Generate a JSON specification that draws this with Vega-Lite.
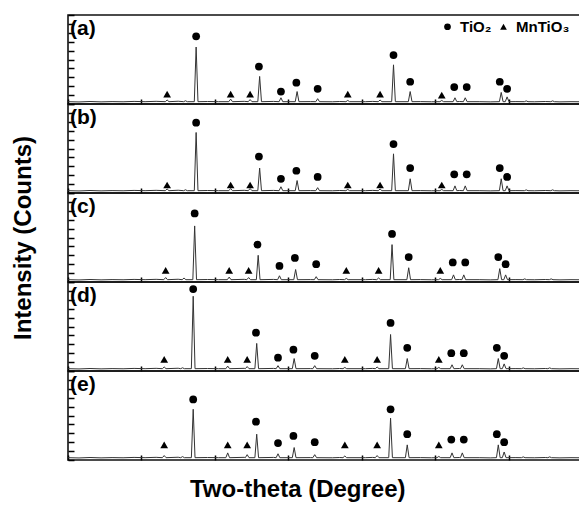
{
  "$schema": "https://vega.github.io/schema/vega-lite/v6.json",
  "padding": {"left": 11, "top": 13, "right": 0, "bottom": 5},
  "bounds": "flush",
  "title": {"text": "Two-theta (Degree)", "orient": "bottom", "anchor": "middle", "fontSize": 24, "fontWeight": "bold", "font": "Liberation Sans", "offset": 16, "color": "black"},
  "data": {"values": [
    {"p":"a","k":"l","lab":"(a)"},{"p":"b","k":"l","lab":"(b)"},{"p":"c","k":"l","lab":"(c)"},{"p":"d","k":"l","lab":"(d)"},{"p":"e","k":"l","lab":"(e)"},

    {"p":"a","k":"t","x":10,"y":2.6},{"p":"a","k":"t","x":11.5,"y":2.3},{"p":"a","k":"t","x":13,"y":2.8},{"p":"a","k":"t","x":14.5,"y":2.4},{"p":"a","k":"t","x":16,"y":2.7},{"p":"a","k":"t","x":17.5,"y":2.5},{"p":"a","k":"t","x":19,"y":2.9},{"p":"a","k":"t","x":20.5,"y":2.6},{"p":"a","k":"t","x":22,"y":3.0},{"p":"a","k":"t","x":25,"y":3.1},{"p":"a","k":"t","x":29,"y":2.8},{"p":"a","k":"t","x":30.5,"y":2.6},{"p":"a","k":"t","x":34,"y":3.0},{"p":"a","k":"t","x":38,"y":2.9},{"p":"a","k":"t","x":43,"y":2.7},{"p":"a","k":"t","x":46,"y":2.5},{"p":"a","k":"t","x":47,"y":2.8},{"p":"a","k":"t","x":50.5,"y":2.6},{"p":"a","k":"t","x":51.5,"y":2.9},{"p":"a","k":"t","x":58,"y":2.7},{"p":"a","k":"t","x":59.5,"y":2.5},{"p":"a","k":"t","x":63.3,"y":2.8},{"p":"a","k":"t","x":66,"y":2.6},{"p":"a","k":"t","x":67.5,"y":2.4},{"p":"a","k":"t","x":71,"y":2.7},{"p":"a","k":"t","x":73.5,"y":2.5},{"p":"a","k":"t","x":75,"y":2.8},{"p":"a","k":"t","x":77,"y":2.4},{"p":"a","k":"t","x":78.5,"y":2.6},{"p":"a","k":"t","x":80,"y":2.5},
    {"p":"a","k":"t","x":23.25,"y":2.6},{"p":"a","k":"t","x":23.5,"y":4.5},{"p":"a","k":"t","x":23.75,"y":2.6},
    {"p":"a","k":"t","x":25.75,"y":2.6},{"p":"a","k":"t","x":26.0,"y":3.6},{"p":"a","k":"t","x":26.25,"y":2.6},
    {"p":"a","k":"t","x":27.2,"y":2.6},{"p":"a","k":"t","x":27.45,"y":64},{"p":"a","k":"t","x":27.7,"y":2.6},
    {"p":"a","k":"t","x":31.9,"y":2.6},{"p":"a","k":"t","x":32.15,"y":5.5},{"p":"a","k":"t","x":32.4,"y":2.6},
    {"p":"a","k":"t","x":34.55,"y":2.6},{"p":"a","k":"t","x":34.8,"y":5},{"p":"a","k":"t","x":35.05,"y":2.6},
    {"p":"a","k":"t","x":35.85,"y":2.6},{"p":"a","k":"t","x":36.1,"y":31},{"p":"a","k":"t","x":36.35,"y":2.6},
    {"p":"a","k":"t","x":38.75,"y":2.6},{"p":"a","k":"t","x":39.0,"y":7},{"p":"a","k":"t","x":39.25,"y":2.6},
    {"p":"a","k":"t","x":40.95,"y":2.6},{"p":"a","k":"t","x":41.2,"y":14},{"p":"a","k":"t","x":41.45,"y":2.6},
    {"p":"a","k":"t","x":43.75,"y":2.6},{"p":"a","k":"t","x":44.0,"y":6},{"p":"a","k":"t","x":44.25,"y":2.6},
    {"p":"a","k":"t","x":47.85,"y":2.6},{"p":"a","k":"t","x":48.1,"y":4},{"p":"a","k":"t","x":48.35,"y":2.6},
    {"p":"a","k":"t","x":52.25,"y":2.6},{"p":"a","k":"t","x":52.5,"y":4.5},{"p":"a","k":"t","x":52.75,"y":2.6},
    {"p":"a","k":"t","x":54.08,"y":2.6},{"p":"a","k":"t","x":54.33,"y":44},{"p":"a","k":"t","x":54.58,"y":2.6},
    {"p":"a","k":"t","x":56.35,"y":2.6},{"p":"a","k":"t","x":56.6,"y":14},{"p":"a","k":"t","x":56.85,"y":2.6},
    {"p":"a","k":"t","x":60.65,"y":2.6},{"p":"a","k":"t","x":60.9,"y":4},{"p":"a","k":"t","x":61.15,"y":2.6},
    {"p":"a","k":"t","x":62.45,"y":2.6},{"p":"a","k":"t","x":62.7,"y":7},{"p":"a","k":"t","x":62.95,"y":2.6},
    {"p":"a","k":"t","x":63.85,"y":2.6},{"p":"a","k":"t","x":64.1,"y":7},{"p":"a","k":"t","x":64.35,"y":2.6},
    {"p":"a","k":"t","x":68.75,"y":2.6},{"p":"a","k":"t","x":69.0,"y":13},{"p":"a","k":"t","x":69.25,"y":2.6},
    {"p":"a","k":"t","x":69.55,"y":2.6},{"p":"a","k":"t","x":69.8,"y":8},{"p":"a","k":"t","x":70.05,"y":2.6},
    {"p":"a","k":"t","x":72.15,"y":2.6},{"p":"a","k":"t","x":72.4,"y":3.5},{"p":"a","k":"t","x":72.65,"y":2.6},
    {"p":"a","k":"t","x":75.75,"y":2.6},{"p":"a","k":"t","x":76.0,"y":3.5},{"p":"a","k":"t","x":76.25,"y":2.6},

    {"p":"b","k":"t","x":10,"y":2.6},{"p":"b","k":"t","x":11.5,"y":2.3},{"p":"b","k":"t","x":13,"y":2.8},{"p":"b","k":"t","x":14.5,"y":2.4},{"p":"b","k":"t","x":16,"y":2.7},{"p":"b","k":"t","x":17.5,"y":2.5},{"p":"b","k":"t","x":19,"y":2.9},{"p":"b","k":"t","x":20.5,"y":2.6},{"p":"b","k":"t","x":22,"y":3.0},{"p":"b","k":"t","x":25,"y":3.1},{"p":"b","k":"t","x":29,"y":2.8},{"p":"b","k":"t","x":30.5,"y":2.6},{"p":"b","k":"t","x":34,"y":3.0},{"p":"b","k":"t","x":38,"y":2.9},{"p":"b","k":"t","x":43,"y":2.7},{"p":"b","k":"t","x":46,"y":2.5},{"p":"b","k":"t","x":47,"y":2.8},{"p":"b","k":"t","x":50.5,"y":2.6},{"p":"b","k":"t","x":51.5,"y":2.9},{"p":"b","k":"t","x":58,"y":2.7},{"p":"b","k":"t","x":59.5,"y":2.5},{"p":"b","k":"t","x":63.3,"y":2.8},{"p":"b","k":"t","x":66,"y":2.6},{"p":"b","k":"t","x":67.5,"y":2.4},{"p":"b","k":"t","x":71,"y":2.7},{"p":"b","k":"t","x":73.5,"y":2.5},{"p":"b","k":"t","x":75,"y":2.8},{"p":"b","k":"t","x":77,"y":2.4},{"p":"b","k":"t","x":78.5,"y":2.6},{"p":"b","k":"t","x":80,"y":2.5},
    {"p":"b","k":"t","x":23.25,"y":2.6},{"p":"b","k":"t","x":23.5,"y":4.5},{"p":"b","k":"t","x":23.75,"y":2.6},
    {"p":"b","k":"t","x":25.75,"y":2.6},{"p":"b","k":"t","x":26.0,"y":3.6},{"p":"b","k":"t","x":26.25,"y":2.6},
    {"p":"b","k":"t","x":27.2,"y":2.6},{"p":"b","k":"t","x":27.45,"y":68},{"p":"b","k":"t","x":27.7,"y":2.6},
    {"p":"b","k":"t","x":31.9,"y":2.6},{"p":"b","k":"t","x":32.15,"y":5},{"p":"b","k":"t","x":32.4,"y":2.6},
    {"p":"b","k":"t","x":34.55,"y":2.6},{"p":"b","k":"t","x":34.8,"y":5},{"p":"b","k":"t","x":35.05,"y":2.6},
    {"p":"b","k":"t","x":35.85,"y":2.6},{"p":"b","k":"t","x":36.1,"y":28},{"p":"b","k":"t","x":36.35,"y":2.6},
    {"p":"b","k":"t","x":38.75,"y":2.6},{"p":"b","k":"t","x":39.0,"y":7},{"p":"b","k":"t","x":39.25,"y":2.6},
    {"p":"b","k":"t","x":40.95,"y":2.6},{"p":"b","k":"t","x":41.2,"y":14},{"p":"b","k":"t","x":41.45,"y":2.6},
    {"p":"b","k":"t","x":43.75,"y":2.6},{"p":"b","k":"t","x":44.0,"y":6},{"p":"b","k":"t","x":44.25,"y":2.6},
    {"p":"b","k":"t","x":47.85,"y":2.6},{"p":"b","k":"t","x":48.1,"y":4},{"p":"b","k":"t","x":48.35,"y":2.6},
    {"p":"b","k":"t","x":52.25,"y":2.6},{"p":"b","k":"t","x":52.5,"y":4.5},{"p":"b","k":"t","x":52.75,"y":2.6},
    {"p":"b","k":"t","x":54.08,"y":2.6},{"p":"b","k":"t","x":54.33,"y":44},{"p":"b","k":"t","x":54.58,"y":2.6},
    {"p":"b","k":"t","x":56.35,"y":2.6},{"p":"b","k":"t","x":56.6,"y":16},{"p":"b","k":"t","x":56.85,"y":2.6},
    {"p":"b","k":"t","x":60.65,"y":2.6},{"p":"b","k":"t","x":60.9,"y":4},{"p":"b","k":"t","x":61.15,"y":2.6},
    {"p":"b","k":"t","x":62.45,"y":2.6},{"p":"b","k":"t","x":62.7,"y":8},{"p":"b","k":"t","x":62.95,"y":2.6},
    {"p":"b","k":"t","x":63.85,"y":2.6},{"p":"b","k":"t","x":64.1,"y":8},{"p":"b","k":"t","x":64.35,"y":2.6},
    {"p":"b","k":"t","x":68.75,"y":2.6},{"p":"b","k":"t","x":69.0,"y":16},{"p":"b","k":"t","x":69.25,"y":2.6},
    {"p":"b","k":"t","x":69.55,"y":2.6},{"p":"b","k":"t","x":69.8,"y":8},{"p":"b","k":"t","x":70.05,"y":2.6},
    {"p":"b","k":"t","x":72.15,"y":2.6},{"p":"b","k":"t","x":72.4,"y":3.5},{"p":"b","k":"t","x":72.65,"y":2.6},
    {"p":"b","k":"t","x":75.75,"y":2.6},{"p":"b","k":"t","x":76.0,"y":3.5},{"p":"b","k":"t","x":76.25,"y":2.6},

    {"p":"c","k":"t","x":10,"y":2.6},{"p":"c","k":"t","x":11.5,"y":2.3},{"p":"c","k":"t","x":13,"y":2.8},{"p":"c","k":"t","x":14.5,"y":2.4},{"p":"c","k":"t","x":16,"y":2.7},{"p":"c","k":"t","x":17.5,"y":2.5},{"p":"c","k":"t","x":19,"y":2.9},{"p":"c","k":"t","x":20.5,"y":2.6},{"p":"c","k":"t","x":22,"y":3.0},{"p":"c","k":"t","x":25,"y":3.1},{"p":"c","k":"t","x":29,"y":2.8},{"p":"c","k":"t","x":30.5,"y":2.6},{"p":"c","k":"t","x":34,"y":3.0},{"p":"c","k":"t","x":38,"y":2.9},{"p":"c","k":"t","x":43,"y":2.7},{"p":"c","k":"t","x":46,"y":2.5},{"p":"c","k":"t","x":47,"y":2.8},{"p":"c","k":"t","x":50.5,"y":2.6},{"p":"c","k":"t","x":51.5,"y":2.9},{"p":"c","k":"t","x":58,"y":2.7},{"p":"c","k":"t","x":59.5,"y":2.5},{"p":"c","k":"t","x":63.3,"y":2.8},{"p":"c","k":"t","x":66,"y":2.6},{"p":"c","k":"t","x":67.5,"y":2.4},{"p":"c","k":"t","x":71,"y":2.7},{"p":"c","k":"t","x":73.5,"y":2.5},{"p":"c","k":"t","x":75,"y":2.8},{"p":"c","k":"t","x":77,"y":2.4},{"p":"c","k":"t","x":78.5,"y":2.6},{"p":"c","k":"t","x":80,"y":2.5},
    {"p":"c","k":"t","x":23.05,"y":2.6},{"p":"c","k":"t","x":23.3,"y":5},{"p":"c","k":"t","x":23.55,"y":2.6},
    {"p":"c","k":"t","x":25.55,"y":2.6},{"p":"c","k":"t","x":25.8,"y":4.5},{"p":"c","k":"t","x":26.05,"y":2.6},
    {"p":"c","k":"t","x":27.0,"y":2.6},{"p":"c","k":"t","x":27.25,"y":63},{"p":"c","k":"t","x":27.5,"y":2.6},
    {"p":"c","k":"t","x":31.7,"y":2.6},{"p":"c","k":"t","x":31.95,"y":5.5},{"p":"c","k":"t","x":32.2,"y":2.6},
    {"p":"c","k":"t","x":34.35,"y":2.6},{"p":"c","k":"t","x":34.6,"y":5},{"p":"c","k":"t","x":34.85,"y":2.6},
    {"p":"c","k":"t","x":35.65,"y":2.6},{"p":"c","k":"t","x":35.9,"y":30},{"p":"c","k":"t","x":36.15,"y":2.6},
    {"p":"c","k":"t","x":38.55,"y":2.6},{"p":"c","k":"t","x":38.8,"y":7},{"p":"c","k":"t","x":39.05,"y":2.6},
    {"p":"c","k":"t","x":40.75,"y":2.6},{"p":"c","k":"t","x":41.0,"y":14},{"p":"c","k":"t","x":41.25,"y":2.6},
    {"p":"c","k":"t","x":43.55,"y":2.6},{"p":"c","k":"t","x":43.8,"y":6},{"p":"c","k":"t","x":44.05,"y":2.6},
    {"p":"c","k":"t","x":47.65,"y":2.6},{"p":"c","k":"t","x":47.9,"y":4},{"p":"c","k":"t","x":48.15,"y":2.6},
    {"p":"c","k":"t","x":52.05,"y":2.6},{"p":"c","k":"t","x":52.3,"y":4.5},{"p":"c","k":"t","x":52.55,"y":2.6},
    {"p":"c","k":"t","x":53.88,"y":2.6},{"p":"c","k":"t","x":54.13,"y":42},{"p":"c","k":"t","x":54.38,"y":2.6},
    {"p":"c","k":"t","x":56.15,"y":2.6},{"p":"c","k":"t","x":56.4,"y":16},{"p":"c","k":"t","x":56.65,"y":2.6},
    {"p":"c","k":"t","x":60.45,"y":2.6},{"p":"c","k":"t","x":60.7,"y":4},{"p":"c","k":"t","x":60.95,"y":2.6},
    {"p":"c","k":"t","x":62.25,"y":2.6},{"p":"c","k":"t","x":62.5,"y":8},{"p":"c","k":"t","x":62.75,"y":2.6},
    {"p":"c","k":"t","x":63.65,"y":2.6},{"p":"c","k":"t","x":63.9,"y":8},{"p":"c","k":"t","x":64.15,"y":2.6},
    {"p":"c","k":"t","x":68.55,"y":2.6},{"p":"c","k":"t","x":68.8,"y":15},{"p":"c","k":"t","x":69.05,"y":2.6},
    {"p":"c","k":"t","x":69.35,"y":2.6},{"p":"c","k":"t","x":69.6,"y":8},{"p":"c","k":"t","x":69.85,"y":2.6},
    {"p":"c","k":"t","x":71.95,"y":2.6},{"p":"c","k":"t","x":72.2,"y":3.5},{"p":"c","k":"t","x":72.45,"y":2.6},
    {"p":"c","k":"t","x":75.55,"y":2.6},{"p":"c","k":"t","x":75.8,"y":3.5},{"p":"c","k":"t","x":76.05,"y":2.6},

    {"p":"d","k":"t","x":10,"y":2.6},{"p":"d","k":"t","x":11.5,"y":2.3},{"p":"d","k":"t","x":13,"y":2.8},{"p":"d","k":"t","x":14.5,"y":2.4},{"p":"d","k":"t","x":16,"y":2.7},{"p":"d","k":"t","x":17.5,"y":2.5},{"p":"d","k":"t","x":19,"y":2.9},{"p":"d","k":"t","x":20.5,"y":2.6},{"p":"d","k":"t","x":22,"y":3.0},{"p":"d","k":"t","x":25,"y":3.1},{"p":"d","k":"t","x":29,"y":2.8},{"p":"d","k":"t","x":30.5,"y":2.6},{"p":"d","k":"t","x":34,"y":3.0},{"p":"d","k":"t","x":38,"y":2.9},{"p":"d","k":"t","x":43,"y":2.7},{"p":"d","k":"t","x":46,"y":2.5},{"p":"d","k":"t","x":47,"y":2.8},{"p":"d","k":"t","x":50.5,"y":2.6},{"p":"d","k":"t","x":51.5,"y":2.9},{"p":"d","k":"t","x":58,"y":2.7},{"p":"d","k":"t","x":59.5,"y":2.5},{"p":"d","k":"t","x":63.3,"y":2.8},{"p":"d","k":"t","x":66,"y":2.6},{"p":"d","k":"t","x":67.5,"y":2.4},{"p":"d","k":"t","x":71,"y":2.7},{"p":"d","k":"t","x":73.5,"y":2.5},{"p":"d","k":"t","x":75,"y":2.8},{"p":"d","k":"t","x":77,"y":2.4},{"p":"d","k":"t","x":78.5,"y":2.6},{"p":"d","k":"t","x":80,"y":2.5},
    {"p":"d","k":"t","x":22.85,"y":2.6},{"p":"d","k":"t","x":23.1,"y":4.5},{"p":"d","k":"t","x":23.35,"y":2.6},
    {"p":"d","k":"t","x":25.35,"y":2.6},{"p":"d","k":"t","x":25.6,"y":3.6},{"p":"d","k":"t","x":25.85,"y":2.6},
    {"p":"d","k":"t","x":26.8,"y":2.6},{"p":"d","k":"t","x":27.05,"y":84},{"p":"d","k":"t","x":27.3,"y":2.6},
    {"p":"d","k":"t","x":31.5,"y":2.6},{"p":"d","k":"t","x":31.75,"y":5.5},{"p":"d","k":"t","x":32.0,"y":2.6},
    {"p":"d","k":"t","x":34.15,"y":2.6},{"p":"d","k":"t","x":34.4,"y":5},{"p":"d","k":"t","x":34.65,"y":2.6},
    {"p":"d","k":"t","x":35.45,"y":2.6},{"p":"d","k":"t","x":35.7,"y":31},{"p":"d","k":"t","x":35.95,"y":2.6},
    {"p":"d","k":"t","x":38.35,"y":2.6},{"p":"d","k":"t","x":38.6,"y":6},{"p":"d","k":"t","x":38.85,"y":2.6},
    {"p":"d","k":"t","x":40.55,"y":2.6},{"p":"d","k":"t","x":40.8,"y":14},{"p":"d","k":"t","x":41.05,"y":2.6},
    {"p":"d","k":"t","x":43.35,"y":2.6},{"p":"d","k":"t","x":43.6,"y":6},{"p":"d","k":"t","x":43.85,"y":2.6},
    {"p":"d","k":"t","x":47.45,"y":2.6},{"p":"d","k":"t","x":47.7,"y":4},{"p":"d","k":"t","x":47.95,"y":2.6},
    {"p":"d","k":"t","x":51.85,"y":2.6},{"p":"d","k":"t","x":52.1,"y":4.5},{"p":"d","k":"t","x":52.35,"y":2.6},
    {"p":"d","k":"t","x":53.68,"y":2.6},{"p":"d","k":"t","x":53.93,"y":41},{"p":"d","k":"t","x":54.18,"y":2.6},
    {"p":"d","k":"t","x":55.95,"y":2.6},{"p":"d","k":"t","x":56.2,"y":14},{"p":"d","k":"t","x":56.45,"y":2.6},
    {"p":"d","k":"t","x":60.25,"y":2.6},{"p":"d","k":"t","x":60.5,"y":4},{"p":"d","k":"t","x":60.75,"y":2.6},
    {"p":"d","k":"t","x":62.05,"y":2.6},{"p":"d","k":"t","x":62.3,"y":7},{"p":"d","k":"t","x":62.55,"y":2.6},
    {"p":"d","k":"t","x":63.45,"y":2.6},{"p":"d","k":"t","x":63.7,"y":7},{"p":"d","k":"t","x":63.95,"y":2.6},
    {"p":"d","k":"t","x":68.35,"y":2.6},{"p":"d","k":"t","x":68.6,"y":14},{"p":"d","k":"t","x":68.85,"y":2.6},
    {"p":"d","k":"t","x":69.15,"y":2.6},{"p":"d","k":"t","x":69.4,"y":8},{"p":"d","k":"t","x":69.65,"y":2.6},
    {"p":"d","k":"t","x":71.75,"y":2.6},{"p":"d","k":"t","x":72.0,"y":3.5},{"p":"d","k":"t","x":72.25,"y":2.6},
    {"p":"d","k":"t","x":75.35,"y":2.6},{"p":"d","k":"t","x":75.6,"y":3.5},{"p":"d","k":"t","x":75.85,"y":2.6},

    {"p":"e","k":"t","x":10,"y":2.6},{"p":"e","k":"t","x":11.5,"y":2.3},{"p":"e","k":"t","x":13,"y":2.8},{"p":"e","k":"t","x":14.5,"y":2.4},{"p":"e","k":"t","x":16,"y":2.7},{"p":"e","k":"t","x":17.5,"y":2.5},{"p":"e","k":"t","x":19,"y":2.9},{"p":"e","k":"t","x":20.5,"y":2.6},{"p":"e","k":"t","x":22,"y":3.0},{"p":"e","k":"t","x":25,"y":3.1},{"p":"e","k":"t","x":29,"y":2.8},{"p":"e","k":"t","x":30.5,"y":2.6},{"p":"e","k":"t","x":34,"y":3.0},{"p":"e","k":"t","x":38,"y":2.9},{"p":"e","k":"t","x":43,"y":2.7},{"p":"e","k":"t","x":46,"y":2.5},{"p":"e","k":"t","x":47,"y":2.8},{"p":"e","k":"t","x":50.5,"y":2.6},{"p":"e","k":"t","x":51.5,"y":2.9},{"p":"e","k":"t","x":58,"y":2.7},{"p":"e","k":"t","x":59.5,"y":2.5},{"p":"e","k":"t","x":63.3,"y":2.8},{"p":"e","k":"t","x":66,"y":2.6},{"p":"e","k":"t","x":67.5,"y":2.4},{"p":"e","k":"t","x":71,"y":2.7},{"p":"e","k":"t","x":73.5,"y":2.5},{"p":"e","k":"t","x":75,"y":2.8},{"p":"e","k":"t","x":77,"y":2.4},{"p":"e","k":"t","x":78.5,"y":2.6},{"p":"e","k":"t","x":80,"y":2.5},
    {"p":"e","k":"t","x":22.85,"y":2.6},{"p":"e","k":"t","x":23.1,"y":5},{"p":"e","k":"t","x":23.35,"y":2.6},
    {"p":"e","k":"t","x":25.35,"y":2.6},{"p":"e","k":"t","x":25.6,"y":3.8},{"p":"e","k":"t","x":25.85,"y":2.6},
    {"p":"e","k":"t","x":26.8,"y":2.6},{"p":"e","k":"t","x":27.05,"y":57},{"p":"e","k":"t","x":27.3,"y":2.6},
    {"p":"e","k":"t","x":31.5,"y":2.6},{"p":"e","k":"t","x":31.75,"y":8},{"p":"e","k":"t","x":32.0,"y":2.6},
    {"p":"e","k":"t","x":34.15,"y":2.6},{"p":"e","k":"t","x":34.4,"y":6},{"p":"e","k":"t","x":34.65,"y":2.6},
    {"p":"e","k":"t","x":35.45,"y":2.6},{"p":"e","k":"t","x":35.7,"y":29},{"p":"e","k":"t","x":35.95,"y":2.6},
    {"p":"e","k":"t","x":38.35,"y":2.6},{"p":"e","k":"t","x":38.6,"y":7},{"p":"e","k":"t","x":38.85,"y":2.6},
    {"p":"e","k":"t","x":40.55,"y":2.6},{"p":"e","k":"t","x":40.8,"y":14},{"p":"e","k":"t","x":41.05,"y":2.6},
    {"p":"e","k":"t","x":43.35,"y":2.6},{"p":"e","k":"t","x":43.6,"y":6},{"p":"e","k":"t","x":43.85,"y":2.6},
    {"p":"e","k":"t","x":47.45,"y":2.6},{"p":"e","k":"t","x":47.7,"y":4.5},{"p":"e","k":"t","x":47.95,"y":2.6},
    {"p":"e","k":"t","x":51.85,"y":2.6},{"p":"e","k":"t","x":52.1,"y":5},{"p":"e","k":"t","x":52.35,"y":2.6},
    {"p":"e","k":"t","x":53.68,"y":2.6},{"p":"e","k":"t","x":53.93,"y":47},{"p":"e","k":"t","x":54.18,"y":2.6},
    {"p":"e","k":"t","x":55.95,"y":2.6},{"p":"e","k":"t","x":56.2,"y":17},{"p":"e","k":"t","x":56.45,"y":2.6},
    {"p":"e","k":"t","x":60.25,"y":2.6},{"p":"e","k":"t","x":60.5,"y":4},{"p":"e","k":"t","x":60.75,"y":2.6},
    {"p":"e","k":"t","x":62.05,"y":2.6},{"p":"e","k":"t","x":62.3,"y":8},{"p":"e","k":"t","x":62.55,"y":2.6},
    {"p":"e","k":"t","x":63.45,"y":2.6},{"p":"e","k":"t","x":63.7,"y":8},{"p":"e","k":"t","x":63.95,"y":2.6},
    {"p":"e","k":"t","x":68.35,"y":2.6},{"p":"e","k":"t","x":68.6,"y":17},{"p":"e","k":"t","x":68.85,"y":2.6},
    {"p":"e","k":"t","x":69.15,"y":2.6},{"p":"e","k":"t","x":69.4,"y":9},{"p":"e","k":"t","x":69.65,"y":2.6},
    {"p":"e","k":"t","x":71.75,"y":2.6},{"p":"e","k":"t","x":72.0,"y":3.5},{"p":"e","k":"t","x":72.25,"y":2.6},
    {"p":"e","k":"t","x":75.35,"y":2.6},{"p":"e","k":"t","x":75.6,"y":3.5},{"p":"e","k":"t","x":75.85,"y":2.6},

    {"p":"a","k":"m","ph":"MnTiO₃","x":23.5,"y":11},{"p":"a","k":"m","ph":"MnTiO₃","x":32.15,"y":11},{"p":"a","k":"m","ph":"MnTiO₃","x":34.8,"y":11},{"p":"a","k":"m","ph":"MnTiO₃","x":48.1,"y":11},{"p":"a","k":"m","ph":"MnTiO₃","x":52.5,"y":11},{"p":"a","k":"m","ph":"MnTiO₃","x":60.9,"y":10},
    {"p":"a","k":"m","ph":"TiO₂","x":27.45,"y":76},{"p":"a","k":"m","ph":"TiO₂","x":36.0,"y":42},{"p":"a","k":"m","ph":"TiO₂","x":39.0,"y":14},{"p":"a","k":"m","ph":"TiO₂","x":41.1,"y":24},{"p":"a","k":"m","ph":"TiO₂","x":44.0,"y":17},{"p":"a","k":"m","ph":"TiO₂","x":54.33,"y":55},{"p":"a","k":"m","ph":"TiO₂","x":56.6,"y":25},{"p":"a","k":"m","ph":"TiO₂","x":62.6,"y":19},{"p":"a","k":"m","ph":"TiO₂","x":64.3,"y":19},{"p":"a","k":"m","ph":"TiO₂","x":68.8,"y":25},{"p":"a","k":"m","ph":"TiO₂","x":69.8,"y":17},

    {"p":"b","k":"m","ph":"MnTiO₃","x":23.5,"y":9},{"p":"b","k":"m","ph":"MnTiO₃","x":32.15,"y":9},{"p":"b","k":"m","ph":"MnTiO₃","x":34.8,"y":9},{"p":"b","k":"m","ph":"MnTiO₃","x":48.1,"y":9},{"p":"b","k":"m","ph":"MnTiO₃","x":52.5,"y":9},{"p":"b","k":"m","ph":"MnTiO₃","x":60.9,"y":9},
    {"p":"b","k":"m","ph":"TiO₂","x":27.45,"y":79},{"p":"b","k":"m","ph":"TiO₂","x":36.0,"y":41},{"p":"b","k":"m","ph":"TiO₂","x":39.0,"y":16},{"p":"b","k":"m","ph":"TiO₂","x":41.1,"y":25},{"p":"b","k":"m","ph":"TiO₂","x":44.0,"y":18},{"p":"b","k":"m","ph":"TiO₂","x":54.33,"y":55},{"p":"b","k":"m","ph":"TiO₂","x":56.6,"y":28},{"p":"b","k":"m","ph":"TiO₂","x":62.6,"y":21},{"p":"b","k":"m","ph":"TiO₂","x":64.3,"y":21},{"p":"b","k":"m","ph":"TiO₂","x":68.8,"y":28},{"p":"b","k":"m","ph":"TiO₂","x":69.8,"y":18},

    {"p":"c","k":"m","ph":"MnTiO₃","x":23.3,"y":13},{"p":"c","k":"m","ph":"MnTiO₃","x":31.95,"y":13},{"p":"c","k":"m","ph":"MnTiO₃","x":34.6,"y":13},{"p":"c","k":"m","ph":"MnTiO₃","x":47.9,"y":13},{"p":"c","k":"m","ph":"MnTiO₃","x":52.3,"y":13},{"p":"c","k":"m","ph":"MnTiO₃","x":60.7,"y":13},
    {"p":"c","k":"m","ph":"TiO₂","x":27.25,"y":77},{"p":"c","k":"m","ph":"TiO₂","x":35.8,"y":42},{"p":"c","k":"m","ph":"TiO₂","x":38.8,"y":18},{"p":"c","k":"m","ph":"TiO₂","x":40.9,"y":27},{"p":"c","k":"m","ph":"TiO₂","x":43.8,"y":20},{"p":"c","k":"m","ph":"TiO₂","x":54.13,"y":54},{"p":"c","k":"m","ph":"TiO₂","x":56.4,"y":28},{"p":"c","k":"m","ph":"TiO₂","x":62.4,"y":22},{"p":"c","k":"m","ph":"TiO₂","x":64.1,"y":22},{"p":"c","k":"m","ph":"TiO₂","x":68.6,"y":28},{"p":"c","k":"m","ph":"TiO₂","x":69.6,"y":20},

    {"p":"d","k":"m","ph":"MnTiO₃","x":23.1,"y":13},{"p":"d","k":"m","ph":"MnTiO₃","x":31.75,"y":13},{"p":"d","k":"m","ph":"MnTiO₃","x":34.4,"y":13},{"p":"d","k":"m","ph":"MnTiO₃","x":47.7,"y":13},{"p":"d","k":"m","ph":"MnTiO₃","x":52.1,"y":13},{"p":"d","k":"m","ph":"MnTiO₃","x":60.5,"y":13},
    {"p":"d","k":"m","ph":"TiO₂","x":27.05,"y":92},{"p":"d","k":"m","ph":"TiO₂","x":35.6,"y":43},{"p":"d","k":"m","ph":"TiO₂","x":38.6,"y":15},{"p":"d","k":"m","ph":"TiO₂","x":40.7,"y":24},{"p":"d","k":"m","ph":"TiO₂","x":43.6,"y":17},{"p":"d","k":"m","ph":"TiO₂","x":53.93,"y":54},{"p":"d","k":"m","ph":"TiO₂","x":56.2,"y":26},{"p":"d","k":"m","ph":"TiO₂","x":62.2,"y":20},{"p":"d","k":"m","ph":"TiO₂","x":63.9,"y":20},{"p":"d","k":"m","ph":"TiO₂","x":68.4,"y":26},{"p":"d","k":"m","ph":"TiO₂","x":69.4,"y":17},

    {"p":"e","k":"m","ph":"MnTiO₃","x":23.1,"y":17},{"p":"e","k":"m","ph":"MnTiO₃","x":31.75,"y":17},{"p":"e","k":"m","ph":"MnTiO₃","x":34.4,"y":17},{"p":"e","k":"m","ph":"MnTiO₃","x":47.7,"y":17},{"p":"e","k":"m","ph":"MnTiO₃","x":52.1,"y":17},{"p":"e","k":"m","ph":"MnTiO₃","x":60.5,"y":17},
    {"p":"e","k":"m","ph":"TiO₂","x":27.05,"y":68},{"p":"e","k":"m","ph":"TiO₂","x":35.6,"y":43},{"p":"e","k":"m","ph":"TiO₂","x":38.6,"y":19},{"p":"e","k":"m","ph":"TiO₂","x":40.7,"y":27},{"p":"e","k":"m","ph":"TiO₂","x":43.6,"y":20},{"p":"e","k":"m","ph":"TiO₂","x":53.93,"y":57},{"p":"e","k":"m","ph":"TiO₂","x":56.2,"y":29},{"p":"e","k":"m","ph":"TiO₂","x":62.2,"y":23},{"p":"e","k":"m","ph":"TiO₂","x":63.9,"y":23},{"p":"e","k":"m","ph":"TiO₂","x":68.4,"y":29},{"p":"e","k":"m","ph":"TiO₂","x":69.4,"y":20}
  ]},
  "facet": {"row": {"field": "p", "type": "nominal", "title": "Intensity (Counts)",
    "header": {"labels": false, "titleFontSize": 24, "titleFontWeight": "bold", "titleFont": "Liberation Sans", "titlePadding": 22, "titleColor": "black"}}},
  "spacing": {"row": 0},
  "resolve": {"axis": {"x": "independent", "y": "independent"}},
  "spec": {
    "width": 514,
    "height": 89,
    "layer": [
      {
        "transform": [{"filter": "datum.k == 't'"}],
        "mark": {"type": "line", "color": "#333333", "strokeWidth": 1, "clip": true},
        "encoding": {
          "x": {"field": "x", "type": "quantitative", "scale": {"domain": [10, 80], "nice": false},
            "axis": {"title": null, "labels": false, "values": [10,15,20,25,30,35,40,45,50,55,60,65,70,75,80], "offset": -5, "tickSize": 5, "tickWidth": 1.5, "tickColor": "black", "domain": false, "grid": false, "minExtent": 0, "maxExtent": 0, "labelOverlap": false}},
          "y": {"field": "y", "type": "quantitative", "scale": {"domain": [0, 100], "nice": false},
            "axis": {"title": null, "labels": false, "tickCount": 10, "offset": -6, "tickSize": 6, "tickWidth": 1.5, "tickColor": "black", "domain": false, "grid": false, "minExtent": 0, "maxExtent": 0, "labelOverlap": false}}
        }
      },
      {
        "transform": [{"filter": "datum.k == 'm'"}],
        "mark": {"type": "point", "filled": true, "color": "black", "opacity": 1, "size": 60},
        "encoding": {
          "x": {"field": "x", "type": "quantitative"},
          "y": {"field": "y", "type": "quantitative"},
          "shape": {"field": "ph", "type": "nominal",
            "scale": {"domain": ["TiO₂", "MnTiO₃"], "range": ["circle", "triangle-up"]},
            "legend": {"orient": "none", "legendX": 372, "legendY": 4, "direction": "horizontal", "title": null,
              "labelFontSize": 15, "labelFontWeight": "bold", "labelFont": "Liberation Sans", "labelColor": "black",
              "symbolSize": 45, "symbolFillColor": "black", "columnPadding": 4, "labelOffset": 5}}
        }
      },
      {
        "transform": [{"filter": "datum.k == 'l'"}],
        "mark": {"type": "text", "align": "left", "baseline": "top", "dx": 2, "dy": 3, "fontSize": 21, "fontWeight": "bold", "font": "Liberation Sans", "color": "black"},
        "encoding": {
          "x": {"datum": 10, "type": "quantitative"},
          "y": {"datum": 100, "type": "quantitative"},
          "text": {"field": "lab"}
        }
      }
    ]
  },
  "config": {
    "view": {"stroke": "#111111", "strokeWidth": 1.6},
    "font": "Liberation Sans"
  }
}
